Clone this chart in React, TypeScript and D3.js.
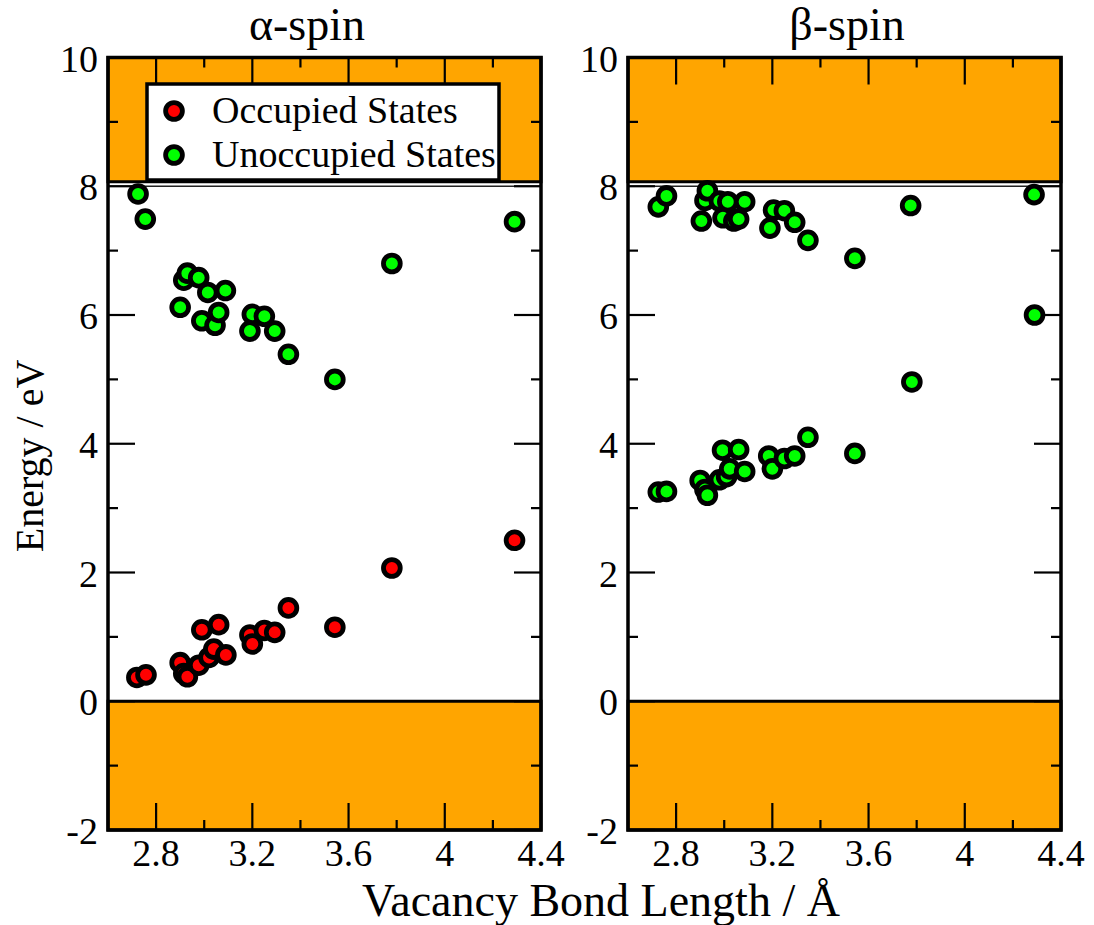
import React from "react";
import * as d3 from "d3";

// ---- data ----
const alphaOccX = [2.72, 2.758, 2.9, 2.915, 2.93, 2.977, 2.99, 3.02, 3.04, 3.06, 3.09, 3.19, 3.2, 3.25, 3.293, 3.35, 3.543, 3.78, 4.29];
const alphaOccY = [0.37, 0.41, 0.6, 0.43, 0.38, 0.56, 1.11, 0.68, 0.81, 1.19, 0.72, 1.03, 0.89, 1.1, 1.07, 1.45, 1.15, 2.07, 2.5];

const alphaUnoccX = [2.725, 2.755, 2.9, 2.915, 2.93, 2.977, 2.99, 3.015, 3.045, 3.06, 3.088, 3.19, 3.2, 3.25, 3.293, 3.35, 3.543, 3.78, 4.29];
const alphaUnoccY = [7.88, 7.49, 6.12, 6.54, 6.65, 6.58, 5.91, 6.35, 5.84, 6.04, 6.38, 5.75, 6.01, 5.98, 5.75, 5.39, 5.0, 6.8, 7.45];

const betaUpperX = [2.726, 2.76, 2.905, 2.92, 2.93, 2.98, 2.995, 3.015, 3.04, 3.06, 3.085, 3.19, 3.205, 3.25, 3.293, 3.348, 3.543, 3.775, 4.288];
const betaUpperY = [7.68, 7.85, 7.46, 7.78, 7.93, 7.77, 7.51, 7.76, 7.46, 7.49, 7.76, 7.35, 7.63, 7.62, 7.44, 7.16, 6.88, 7.7, 7.87];

const betaLowerX = [2.726, 2.76, 2.9, 2.92, 2.93, 2.98, 2.993, 3.01, 3.023, 3.06, 3.085, 3.185, 3.2, 3.25, 3.293, 3.348, 3.543, 3.78, 4.29];
const betaLowerY = [3.25, 3.26, 3.43, 3.29, 3.2, 3.44, 3.9, 3.49, 3.61, 3.91, 3.57, 3.81, 3.61, 3.77, 3.81, 4.1, 3.85, 4.96, 6.0];

const xMajor = [2.8, 3.2, 3.6, 4.0, 4.4];
const xMajorLabels = ["2.8", "3.2", "3.6", "4", "4.4"];
const xMinor = [3.0, 3.4, 3.8, 4.2];
const yMajor = [-2, 0, 2, 4, 6, 8, 10];
const yMinor = [-1, 1, 3, 5, 7, 9];

const panelTitles = ["\u03b1-spin", "\u03b2-spin"];
const legendLabels = ["Occupied States", "Unoccupied States"];
const xTitle = "Vacancy Bond Length / \u00c5";
const yTitle = "Energy / eV";

const bandTop = [8.07, 10];
const bandBottom = [-2, 0];

const ORANGE = "#ffa500";
const RED = "#ff0000";
const GREEN = "#00ff00";
const FONT = "'Liberation Serif', 'Times New Roman', serif";

const TOP = 57.5;
const BOTTOM = 830;
const MAJ = 27;
const MIN = 10;

function Marker({ cx, cy, fill }: { cx: number; cy: number; fill: string }) {
  return <circle cx={cx} cy={cy} r={8.4} fill={fill} stroke="#000" strokeWidth={4.8} />;
}

function Panel({ left, right, title, titleX, series, legend }: any) {
  const x = d3.scaleLinear().domain([2.6, 4.4]).range([left, right]);
  const y = d3.scaleLinear().domain([-2, 10]).range([BOTTOM, TOP]);
  const w = right - left;
  return (
    <g>
      <text x={titleX} y={40} fontSize={46} textAnchor="middle" fontFamily={FONT}>{title}</text>
      {/* bands */}
      <rect x={left} y={y(bandTop[1])} width={w} height={y(bandTop[0]) - y(bandTop[1])} fill={ORANGE} stroke="#000" strokeWidth={3} />
      <rect x={left} y={y(bandBottom[1])} width={w} height={y(bandBottom[0]) - y(bandBottom[1])} fill={ORANGE} stroke="#000" strokeWidth={3} />
      <line x1={left} x2={right} y1={y(8)} y2={y(8)} stroke="#222" strokeWidth={1.5} />
      {/* ticks */}
      {xMajor.map((v, i) => (
        <g key={"xm" + i}>
          <line x1={x(v)} x2={x(v)} y1={BOTTOM} y2={BOTTOM - MAJ} stroke="#000" strokeWidth={2.2} />
          <line x1={x(v)} x2={x(v)} y1={TOP} y2={TOP + MAJ} stroke="#000" strokeWidth={2.2} />
          <text x={x(v)} y={866} fontSize={38} textAnchor="middle" fontFamily={FONT}>{xMajorLabels[i]}</text>
        </g>
      ))}
      {xMinor.map((v, i) => (
        <g key={"xn" + i}>
          <line x1={x(v)} x2={x(v)} y1={BOTTOM} y2={BOTTOM - MIN} stroke="#000" strokeWidth={2.2} />
          <line x1={x(v)} x2={x(v)} y1={TOP} y2={TOP + MIN} stroke="#000" strokeWidth={2.2} />
        </g>
      ))}
      {yMajor.map((v, i) => (
        <g key={"ym" + i}>
          <line x1={left} x2={left + MAJ} y1={y(v)} y2={y(v)} stroke="#000" strokeWidth={2.2} />
          <line x1={right} x2={right - MAJ} y1={y(v)} y2={y(v)} stroke="#000" strokeWidth={2.2} />
          <text x={left - 10} y={y(v) + 14} fontSize={38} textAnchor="end" fontFamily={FONT}>{String(v)}</text>
        </g>
      ))}
      {yMinor.map((v, i) => (
        <g key={"yn" + i}>
          <line x1={left} x2={left + MIN} y1={y(v)} y2={y(v)} stroke="#000" strokeWidth={2.2} />
          <line x1={right} x2={right - MIN} y1={y(v)} y2={y(v)} stroke="#000" strokeWidth={2.2} />
        </g>
      ))}
      {/* points */}
      {series.map((s: any, si: number) =>
        s.xs.map((xv: number, i: number) => (
          <Marker key={si + "-" + i} cx={x(xv)} cy={y(s.ys[i])} fill={s.color} />
        ))
      )}
      {/* frame */}
      <rect x={left} y={TOP} width={w} height={BOTTOM - TOP} fill="none" stroke="#000" strokeWidth={3.5} />
      {legend && (
        <g>
          <rect x={147} y={84} width={352} height={96} fill="#fff" stroke="#000" strokeWidth={3.5} />
          <Marker cx={174} cy={111} fill={RED} />
          <text x={212} y={123} fontSize={38} fontFamily={FONT}>{legendLabels[0]}</text>
          <Marker cx={174} cy={155} fill={GREEN} />
          <text x={212} y={167} fontSize={38} fontFamily={FONT}>{legendLabels[1]}</text>
        </g>
      )}
    </g>
  );
}

export default function App() {
  return (
    <svg width={1094} height={925} style={{ position: "absolute", left: 0, top: 0, background: "#fff" }}>
      <Panel
        left={108}
        right={541}
        title={panelTitles[0]}
        titleX={307}
        legend
        series={[
          { xs: alphaOccX, ys: alphaOccY, color: RED },
          { xs: alphaUnoccX, ys: alphaUnoccY, color: GREEN },
        ]}
      />
      <Panel
        left={628}
        right={1061}
        title={panelTitles[1]}
        titleX={847}
        series={[
          { xs: betaLowerX, ys: betaLowerY, color: GREEN },
          { xs: betaUpperX, ys: betaUpperY, color: GREEN },
        ]}
      />
      <text x={601} y={916} fontSize={46} textAnchor="middle" fontFamily={FONT}>{xTitle}</text>
      <text transform="translate(43,456) rotate(-90)" fontSize={40} textAnchor="middle" fontFamily={FONT}>{yTitle}</text>
    </svg>
  );
}
